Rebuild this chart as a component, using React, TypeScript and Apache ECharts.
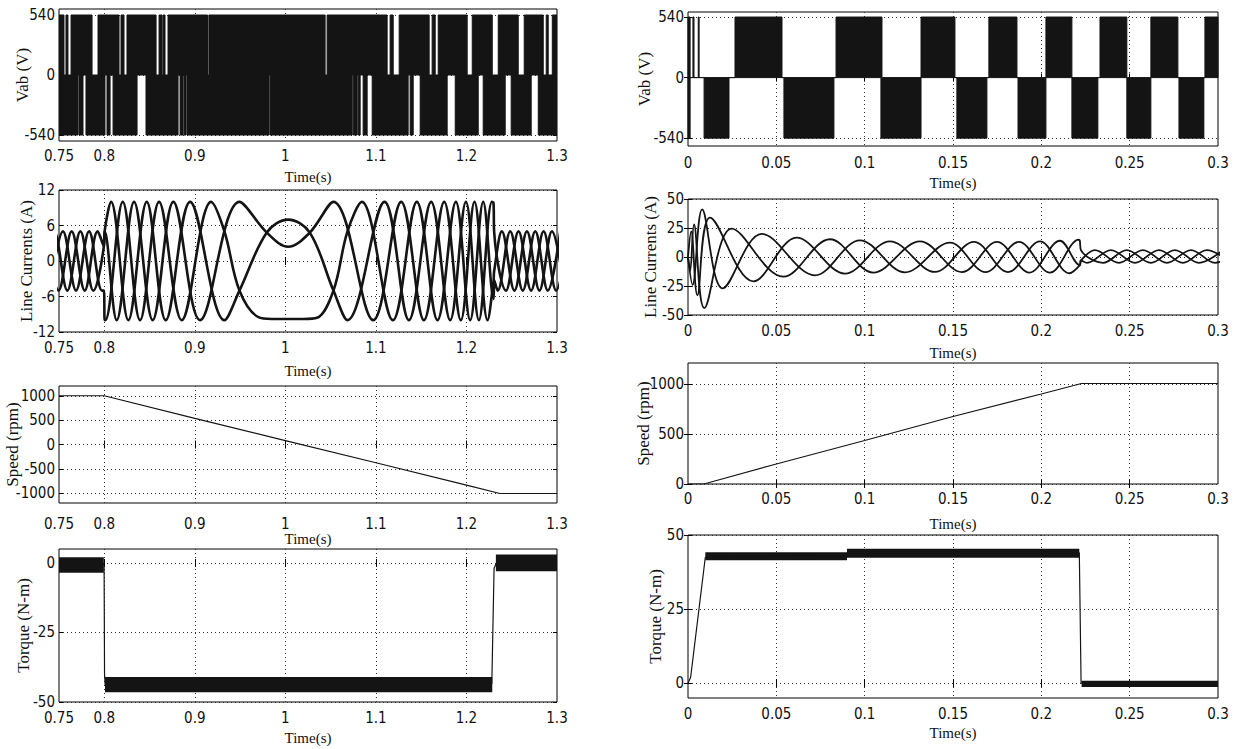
import React, { useEffect, useRef } from "react";
import * as echarts from "echarts";

// ---------------- tick labels ----------------
const leftTimeLabels = [0.75, 0.8, 0.9, 1, 1.1, 1.2, 1.3];
const leftTimeGrid = [0.8, 0.9, 1, 1.1, 1.2];
const rightTimeLabels = [0, 0.05, 0.1, 0.15, 0.2, 0.25, 0.3];
const rightTimeGrid = [0.05, 0.1, 0.15, 0.2, 0.25];
const vabTicks = [-540, 0, 540];
const curTicksL = [-12, -6, 0, 6, 12];
const curTicksR = [-50, -25, 0, 25, 50];
const speedTicksL = [-1000, -500, 0, 500, 1000];
const speedTicksR = [0, 500, 1000];
const torqueTicksL = [-50, -25, 0];
const torqueTicksR = [0, 25, 50];

// ---------------- Vab (left): white gaps in the +540 and -540 PWM halves ----------------
const vabUpperGapsL = [[0.7555, 0.7577], [0.7599, 0.7633], [0.7865, 0.7931], [0.8163, 0.8185], [0.8218, 0.8251], [0.8572, 0.8605], [0.8638, 0.8649], [0.8671, 0.8704], [0.914, 0.9155], [1.0439, 1.0461], [1.1124, 1.1157], [1.1191, 1.1257], [1.1588, 1.1621], [1.1655, 1.1688], [1.2008, 1.2064], [1.2285, 1.2351], [1.2572, 1.2638], [1.2848, 1.2881], [1.2903, 1.2948]];
const vabLowerGapsL = [[0.771, 0.7721], [0.7765, 0.7798], [0.8008, 0.803], [0.8064, 0.8097], [0.8362, 0.8461], [0.8815, 0.8837], [0.887, 0.8881], [0.8903, 0.8914], [0.982, 0.9831], [1.0738, 1.0749], [1.0793, 1.0804], [1.0826, 1.0859], [1.0903, 1.0959], [1.1356, 1.1378], [1.1412, 1.1489], [1.1787, 1.1876], [1.213, 1.2185], [1.2428, 1.2494], [1.2715, 1.2793]];

// ---------------- Vab (right): black PWM blocks ----------------
const vabUpperBlocksR = [[0, 0.0012], [0.0028, 0.0034], [0.0058, 0.0063], [0.0266, 0.0532], [0.0838, 0.1098], [0.1319, 0.1511], [0.1703, 0.1862], [0.2026, 0.2173], [0.2332, 0.2484], [0.262, 0.2773], [0.2926, 0.3]];
const vabLowerBlocksR = [[0, 0.0012], [0.0091, 0.0232], [0.0543, 0.0826], [0.1092, 0.1319], [0.1522, 0.1692], [0.1868, 0.2026], [0.2173, 0.232], [0.2484, 0.262], [0.2779, 0.292]];

// ---------------- Line currents (left) : extrema of each phase ----------------
const curAL = [[0.74, -5], [0.7544, 5], [0.7688, -5], [0.7832, 5], [0.7975, -5], [0.7996, -5], [0.8004, -10], [0.8012, -10], [0.8204, 10], [0.8395, -10], [0.8605, 10], [0.8856, -10], [0.918, 10], [0.9327, 5], [0.9493, -5], [0.9702, -9.5], [0.985, -9.8], [1.0, -9.8], [1.02, -9.8], [1.035, -9.6], [1.0531, -5], [1.0686, 5], [1.0844, 10], [1.1187, -10], [1.1452, 10], [1.168, -10], [1.1883, 10], [1.2041, -10], [1.2185, 10], [1.2299, -6.4], [1.2306, -3.2], [1.2345, -5], [1.2483, 5], [1.2622, -5], [1.276, 5], [1.2898, -5], [1.3036, 5]];
const curBL = [[0.7352, 5], [0.7496, -5], [0.764, 5], [0.7784, -5], [0.7927, 5], [0.7996, 2.5], [0.8004, 5], [0.8137, -10], [0.8329, 10], [0.8535, -10], [0.8763, 10], [0.9058, -10], [0.9493, 10], [0.9795, 4.8], [1.003, 2.4], [1.027, 4.8], [1.0531, 10], [1.097, -10], [1.1279, 10], [1.153, -10], [1.1754, 10], [1.1938, -10], [1.2089, 10], [1.2233, -10], [1.2299, -3.4], [1.2306, -1.7], [1.2391, 5], [1.253, -5], [1.2668, 5], [1.2806, -5], [1.2944, 5], [1.3083, -5]];
const curCL = [[0.7304, -5], [0.7448, 5], [0.7592, -5], [0.7736, 5], [0.7879, -5], [0.7996, 2.5], [0.8004, 5], [0.8075, 10], [0.8266, -10], [0.8469, 10], [0.8679, -10], [0.8948, 10], [0.9327, -10], [0.9493, -5], [0.9795, 4.8], [1.003, 7.0], [1.027, 4.8], [1.0531, -5], [1.0686, -10], [1.1095, 10], [1.1364, -10], [1.161, 10], [1.182, -10], [1.1994, 10], [1.2137, -10], [1.2281, 10], [1.2299, 9.8], [1.2306, 4.9], [1.2437, -5], [1.2575, 5], [1.2714, -5], [1.2852, 5], [1.299, -5], [1.3128, 5]];

// ---------------- Line currents (right) ----------------
const curAR = [[0, 0], [0.0018, 22], [0.0053, -33], [0.01245, 34], [0.03696, -21], [0.06152, 16.7], [0.08885, -14.3], [0.11432, 13.5], [0.13979, -12.9], [0.16186, 13], [0.1811, -13], [0.19921, 13.5], [0.2159, -14], [0.2218, -7], [0.2224, -3], [0.2303, 6], [0.2439, -5], [0.2575, 6], [0.2711, -5], [0.2847, 6], [0.2983, -5], [0.3119, 6]];
const curBR = [[0, 0], [0.0012, -12], [0.0034, 28], [0.0092, -44], [0.02473, 24.4], [0.05393, -17], [0.08036, 15.3], [0.10487, -13.4], [0.1313, 13.5], [0.15507, -13], [0.17487, 13], [0.19327, -13.5], [0.21053, 14], [0.2218, -7], [0.2224, -3], [0.2258, -5], [0.2394, 6], [0.253, -5], [0.2666, 6], [0.2801, -5], [0.2937, 6], [0.3073, -5]];
const curCR = [[0, 0], [0.0026, -24], [0.008, 41], [0.01964, -27], [0.04171, 20], [0.07187, -15.8], [0.09734, 14.4], [0.12281, -13.2], [0.14827, 12.4], [0.16837, -13], [0.18732, 13], [0.20487, -13.5], [0.22128, 15], [0.2218, 14], [0.2224, 6], [0.2349, -5], [0.2484, 6], [0.262, -5], [0.2756, 6], [0.2892, -5], [0.3028, 6]];

// ---------------- Speed ----------------
const speedL = [[0.75, 1000], [0.8, 1000], [0.9, 535], [1.0, 80], [1.1, -375], [1.2, -835], [1.237, -1005], [1.3, -1005]];
const speedR = [[0, 0], [0.009, 0], [0.05, 200], [0.1, 435], [0.15, 675], [0.2, 900], [0.2227, 1005], [0.3, 1005]];

// ---------------- Torque: mean trace + ripple bands [t0, t1, low, high] ----------------
const torqueL = [[0.75, -0.5], [0.7998, -0.5], [0.8003, -40], [0.801, -44], [1.228, -43.5], [1.2305, -2], [1.233, 0], [1.3, 0]];
const torqueBandL = [[0.75, 0.7995, -3.5, 2], [0.8008, 1.2285, -46.5, -41], [1.2325, 1.3, -3, 3]];
const torqueR = [[0, 0], [0.0015, 2], [0.0098, 42.5], [0.09, 43], [0.0902, 44], [0.2215, 44], [0.2225, 0], [0.3, 0]];
const torqueBandR = [[0.0098, 0.09, 41.5, 44.2], [0.09, 0.2215, 42.3, 45.4], [0.2228, 0.3, -1.3, 0.8]];

// ---------------- helpers (build polylines from the arrays) ----------------
function gapsToTrace(gaps: number[][], level: number, t0: number, t1: number) {
  const pts: number[][] = [[t0, level]];
  for (const [s, e] of gaps) pts.push([s, level], [s, 0], [e, 0], [e, level]);
  pts.push([t1, level]);
  return pts;
}
function blocksToTrace(blocks: number[][], level: number, t0: number, t1: number) {
  const pts: number[][] = [[t0, 0]];
  for (const [s, e] of blocks) pts.push([s, 0], [s, level], [e, level], [e, 0]);
  pts.push([t1, 0]);
  return pts;
}

const SERIF = "'Liberation Serif', 'Times New Roman', serif";
const NARROW = "'Liberation Sans Narrow', 'Arial Narrow', 'DejaVu Sans Condensed', sans-serif";
const INK = "#141414";
const plain = (v: number) => String(v);

const gridBoxes = [
  { left: 59, top: 9, width: 498, height: 132 },
  { left: 59, top: 190, width: 498, height: 142 },
  { left: 59, top: 386, width: 498, height: 117 },
  { left: 59, top: 549, width: 498, height: 153 },
  { left: 688, top: 12, width: 530, height: 134 },
  { left: 688, top: 199, width: 530, height: 116 },
  { left: 688, top: 363, width: 530, height: 121 },
  { left: 688, top: 535, width: 530, height: 163 },
];

function xAx(i: number, min: number, max: number, labels: number[], grid: number[], margin: number, nameGap: number) {
  return {
    type: "value", gridIndex: i, min, max, position: "bottom",
    name: "Time(s)", nameLocation: "middle", nameGap, nameMoveOverlap: false,
    nameTextStyle: { fontFamily: SERIF, fontSize: 15, color: "#111" },
    axisLine: { show: false },
    axisTick: { show: true, inside: true, length: 4, customValues: grid, lineStyle: { color: "#000" } },
    axisLabel: { customValues: labels, formatter: plain, fontFamily: NARROW, fontSize: 15, color: "#111", margin },
    splitLine: { show: true, lineStyle: { color: "#333", type: [1, 3], width: 1 } },
  };
}
function xTop(i: number, min: number, max: number, grid: number[]) {
  return {
    type: "value", gridIndex: i, min, max, position: "top",
    axisLine: { show: false },
    axisTick: { show: true, inside: true, length: 4, customValues: grid, lineStyle: { color: "#000" } },
    axisLabel: { show: false },
    splitLine: { show: false },
  };
}
function yAx(i: number, min: number, max: number, ticks: number[], name: string, nameGap: number) {
  return {
    type: "value", gridIndex: i, min, max, position: "left",
    name, nameLocation: "middle", nameGap, nameMoveOverlap: false,
    nameTextStyle: { fontFamily: SERIF, fontSize: 17, color: "#111" },
    axisLine: { show: false },
    axisTick: { show: true, inside: true, length: 4, customValues: ticks, lineStyle: { color: "#000" } },
    axisLabel: { customValues: ticks, formatter: plain, fontFamily: NARROW, fontSize: 15, color: "#111", margin: 4 },
    splitLine: { show: true, lineStyle: { color: "#333", type: [1, 3], width: 1 } },
  };
}
function yRight(i: number, min: number, max: number, ticks: number[]) {
  return {
    type: "value", gridIndex: i, min, max, position: "right",
    axisLine: { show: false },
    axisTick: { show: true, inside: true, length: 4, customValues: ticks, lineStyle: { color: "#000" } },
    axisLabel: { show: false },
    splitLine: { show: false },
  };
}
function line(i: number, data: number[][], width: number, extra: any = {}) {
  return {
    type: "line", xAxisIndex: i, yAxisIndex: i, data, symbol: "none", showSymbol: false,
    silent: true, lineStyle: { color: INK, width }, ...extra,
  };
}
function bandArea(bands: number[][]) {
  return {
    silent: true,
    itemStyle: { color: INK, opacity: 1 },
    data: bands.map(([t0, t1, lo, hi]) => [{ coord: [t0, hi] }, { coord: [t1, lo] }]),
  };
}

export default function App() {
  const ref = useRef<HTMLDivElement>(null);
  useEffect(() => {
    if (!ref.current) return;
    const chart = echarts.init(ref.current, null, { renderer: "svg" });
    const xSpecs = [
      [0.75, 1.3, leftTimeLabels, leftTimeGrid, 7, 28],
      [0.75, 1.3, leftTimeLabels, leftTimeGrid, 8, 31],
      [0.75, 1.3, leftTimeLabels, leftTimeGrid, 13, 28],
      [0.75, 1.3, leftTimeLabels, leftTimeGrid, 8, 28],
      [0, 0.3, rightTimeLabels, rightTimeGrid, 9, 29],
      [0, 0.3, rightTimeLabels, rightTimeGrid, 8, 30],
      [0, 0.3, rightTimeLabels, rightTimeGrid, 7, 32],
      [0, 0.3, rightTimeLabels, rightTimeGrid, 8, 27],
    ] as any[];
    const ySpecs = [
      [-594, 594, vabTicks, "Vab (V)", 28],
      [-12, 12, curTicksL, "Line Currents (A)", 24],
      [-1200, 1200, speedTicksL, "Speed (rpm)", 38],
      [-50, 5, torqueTicksL, "Torque (N-m)", 27],
      [-610, 585, vabTicks, "Vab (V)", 35],
      [-50, 50, curTicksR, "Line Currents (A)", 29],
      [0, 1210, speedTicksR, "Speed (rpm)", 36],
      [-5, 50, torqueTicksR, "Torque (N-m)", 24],
    ] as any[];
    const option: any = {
      animation: false,
      backgroundColor: "#fff",
      grid: gridBoxes.map((g) => ({ ...g, show: true, borderColor: "#000", borderWidth: 1, backgroundColor: "#fff", containLabel: false })),
      xAxis: [
        ...xSpecs.map((s, i) => xAx(i, s[0], s[1], s[2], s[3], s[4], s[5])),
        ...xSpecs.map((s, i) => xTop(i, s[0], s[1], s[3])),
      ],
      yAxis: [
        ...ySpecs.map((s, i) => yAx(i, s[0], s[1], s[2], s[3], s[4])),
        ...ySpecs.map((s, i) => yRight(i, s[0], s[1], s[2])),
      ],
      series: [
        line(0, gapsToTrace(vabUpperGapsL, 540, 0.75, 1.3), 1, { areaStyle: { color: INK, opacity: 1 } }),
        line(0, gapsToTrace(vabLowerGapsL, -540, 0.75, 1.3), 1, { areaStyle: { color: INK, opacity: 1 } }),
        line(1, curAL, 2.6, { smooth: 0.36 }),
        line(1, curBL, 2.6, { smooth: 0.36 }),
        line(1, curCL, 2.6, { smooth: 0.36 }),
        line(2, speedL, 1.2),
        line(3, torqueL, 1.2, { markArea: bandArea(torqueBandL) }),
        line(4, blocksToTrace(vabUpperBlocksR, 540, 0, 0.3), 1, { areaStyle: { color: INK, opacity: 1 } }),
        line(4, blocksToTrace(vabLowerBlocksR, -540, 0, 0.3), 1, { areaStyle: { color: INK, opacity: 1 } }),
        line(5, curAR, 1.8, { smooth: 0.36 }),
        line(5, curBR, 1.8, { smooth: 0.36 }),
        line(5, curCR, 1.8, { smooth: 0.36 }),
        line(6, speedR, 1.2),
        line(7, torqueR, 1.2, { markArea: bandArea(torqueBandR) }),
      ],
    };
    chart.setOption(option);
    return () => chart.dispose();
  }, []);
  return (
    <div
      ref={ref}
      style={{ position: "absolute", left: 0, top: 0, width: 1239, height: 749, background: "#fff" }}
    />
  );
}
